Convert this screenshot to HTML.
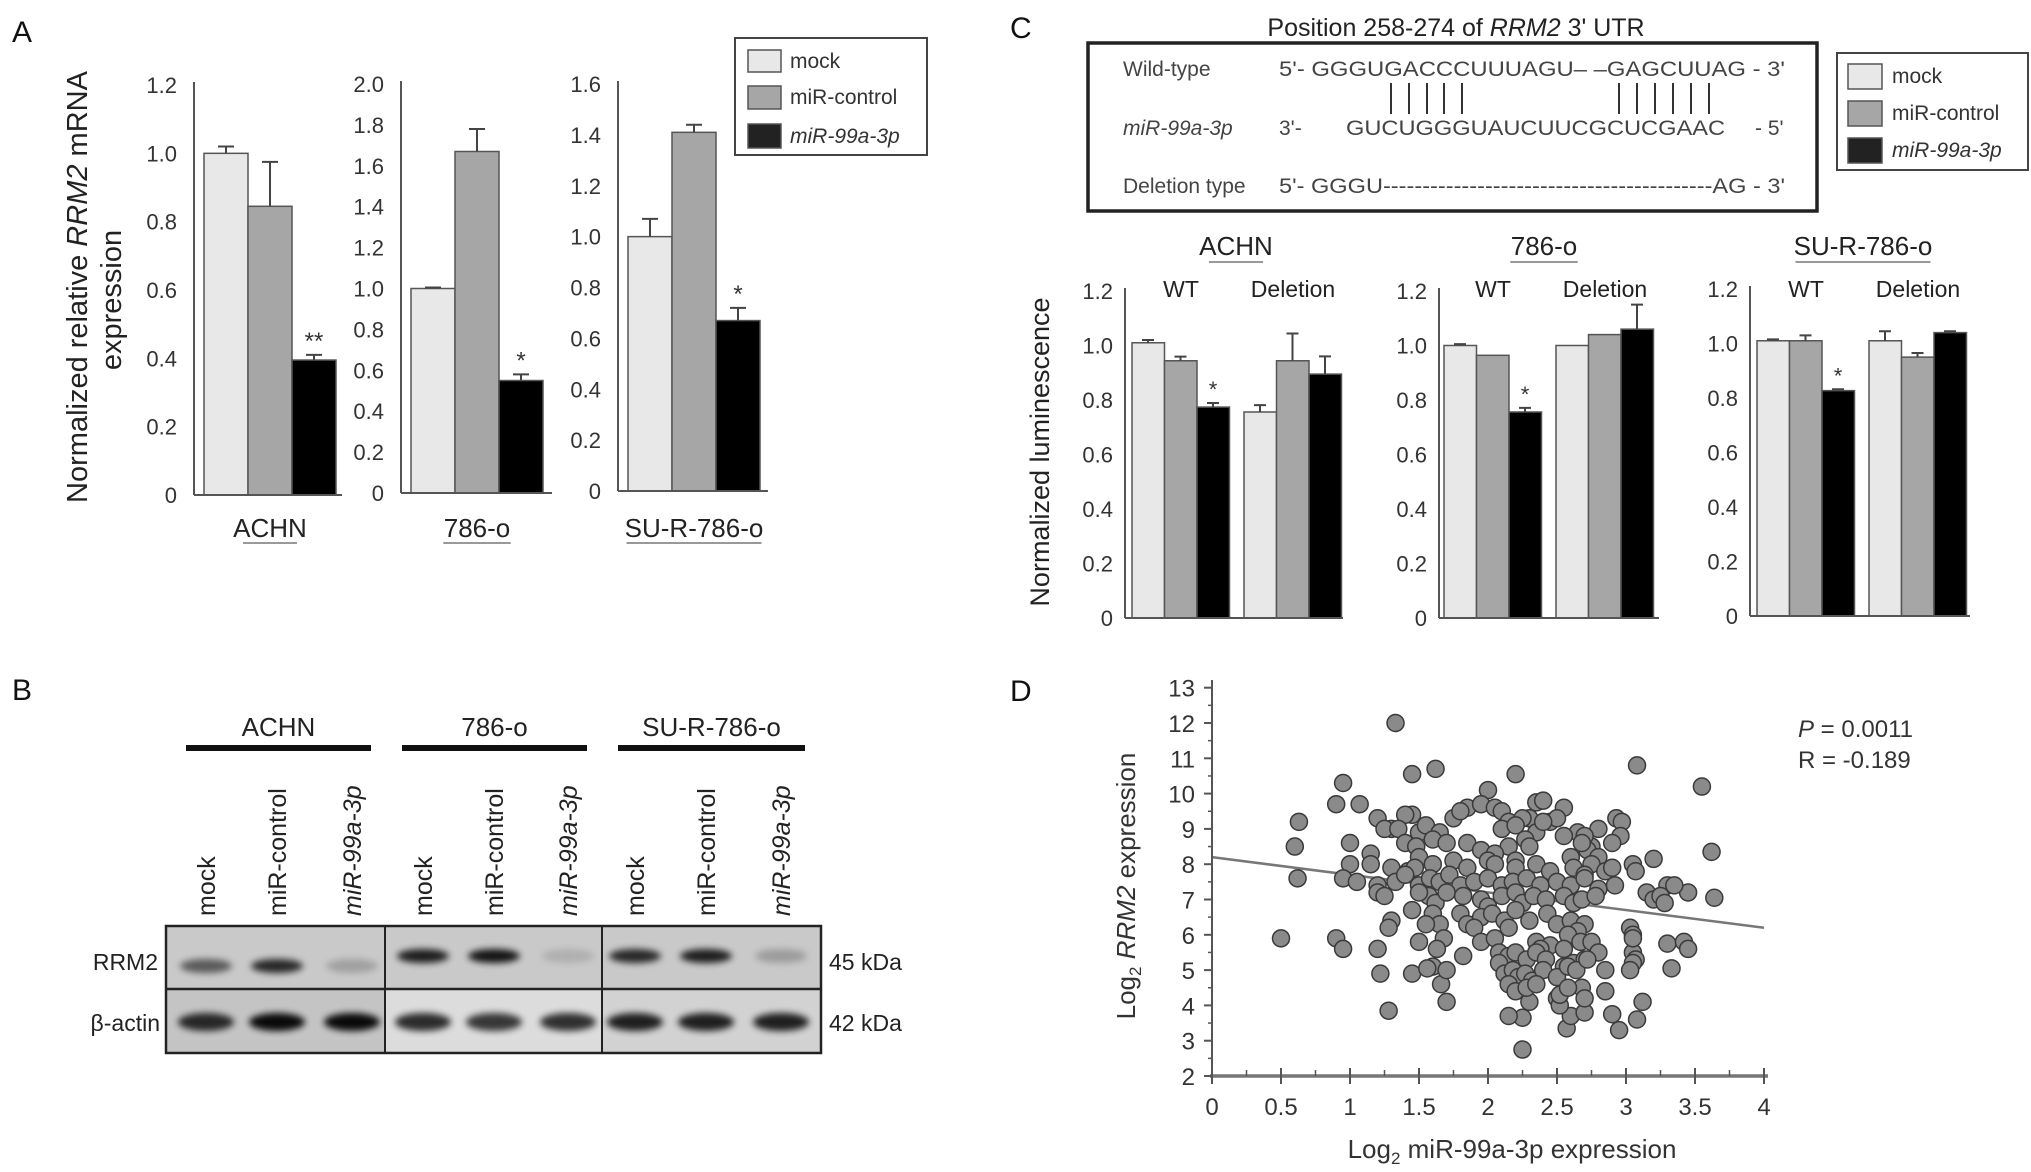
<!DOCTYPE html>
<html><head><meta charset="utf-8"><style>
html,body{margin:0;padding:0;background:#fff;}
svg{display:block;font-family:"Liberation Sans",Arial,sans-serif;}
</style></head><body>
<svg id="fig" width="2031" height="1172" viewBox="0 0 2031 1172" xmlns="http://www.w3.org/2000/svg">
<defs>
<filter id="blur" x="-30%" y="-100%" width="160%" height="300%"><feGaussianBlur stdDeviation="3.5"/></filter>
</defs>
<text x="12" y="42" font-size="30" fill="#111">A</text>
<text x="12" y="700" font-size="30" fill="#111">B</text>
<text x="1010" y="38" font-size="30" fill="#111">C</text>
<text x="1010" y="701" font-size="30" fill="#111">D</text>

<text transform="translate(87,287) rotate(-90)" text-anchor="middle" font-size="29" fill="#222">Normalized relative <tspan font-style="italic">RRM2</tspan> mRNA</text>
<text transform="translate(121,300) rotate(-90)" text-anchor="middle" font-size="29" fill="#222">expression</text>

<g>
<rect x="735" y="38" width="192" height="117" fill="#fff" stroke="#444" stroke-width="2"/>
<rect x="748" y="50" width="33" height="22" fill="#e8e8e8" stroke="#555" stroke-width="1.5"/>
<rect x="748" y="86" width="33" height="23" fill="#a6a6a6" stroke="#555" stroke-width="1.5"/>
<rect x="748" y="124" width="33" height="24" fill="#222" stroke="#555" stroke-width="1.5"/>
<text x="790" y="68" font-size="21" fill="#333">mock</text>
<text x="790" y="104" font-size="21" fill="#333">miR-control</text>
<text x="790" y="143" font-size="21" fill="#333" font-style="italic">miR-99a-3p</text>
</g>

<text x="1456" y="36" text-anchor="middle" font-size="25" fill="#222">Position 258-274 of <tspan font-style="italic">RRM2</tspan>  3' UTR</text>
<g fill="#444" font-size="21">
<rect x="1088" y="43" width="729" height="168" fill="#fff" stroke="#222" stroke-width="3.5"/>
<text x="1123" y="76">Wild-type</text>
<text x="1123" y="135" font-style="italic">miR-99a-3p</text>
<text x="1123" y="193">Deletion type</text>
<text x="1279" y="76" textLength="506" lengthAdjust="spacingAndGlyphs">5'- GGGUGACCCUUUAGU– –GAGCUUAG - 3'</text>
<text x="1279" y="135">3'-</text>
<text x="1346" y="135" textLength="379" lengthAdjust="spacingAndGlyphs">GUCUGGGUAUCUUCGCUCGAAC</text>
<text x="1755" y="135">- 5'</text>
<text x="1279" y="193" textLength="506" lengthAdjust="spacingAndGlyphs">5'- GGGU------------------------------------------AG - 3'</text>
<g stroke="#333" stroke-width="2">
<line x1="1391" y1="83" x2="1391" y2="114"/><line x1="1409" y1="83" x2="1409" y2="114"/><line x1="1427" y1="83" x2="1427" y2="114"/><line x1="1444" y1="83" x2="1444" y2="114"/><line x1="1462" y1="83" x2="1462" y2="114"/>
<line x1="1619" y1="83" x2="1619" y2="114"/><line x1="1637" y1="83" x2="1637" y2="114"/><line x1="1655" y1="83" x2="1655" y2="114"/><line x1="1673" y1="83" x2="1673" y2="114"/><line x1="1691" y1="83" x2="1691" y2="114"/><line x1="1709" y1="83" x2="1709" y2="114"/>
</g>
</g>
<g>
<rect x="1837" y="53" width="191" height="117" fill="#fff" stroke="#444" stroke-width="2"/>
<rect x="1848" y="64" width="34" height="25" fill="#e8e8e8" stroke="#555" stroke-width="1.5"/>
<rect x="1848" y="101" width="34" height="25" fill="#a6a6a6" stroke="#555" stroke-width="1.5"/>
<rect x="1848" y="138" width="34" height="25" fill="#222" stroke="#555" stroke-width="1.5"/>
<text x="1892" y="83" font-size="21" fill="#333">mock</text>
<text x="1892" y="120" font-size="21" fill="#333">miR-control</text>
<text x="1892" y="157" font-size="21" fill="#333" font-style="italic">miR-99a-3p</text>
</g>
<text transform="translate(1049,452) rotate(-90)" text-anchor="middle" font-size="27" fill="#222">Normalized luminescence</text>

<g id="panelB"></g>
<g id="panelD"></g>
</svg>
<script>
// ---------- Panel A data ----------
const aGroups = ["ACHN", "786-o", "SU-R-786-o"];
const aSeries = ["mock", "miR-control", "miR-99a-3p"];
const aMax = [1.2, 2.0, 1.6];
const aTickLabels = [["0","0.2","0.4","0.6","0.8","1.0","1.2"],["0","0.2","0.4","0.6","0.8","1.0","1.2","1.4","1.6","1.8","2.0"],["0","0.2","0.4","0.6","0.8","1.0","1.2","1.4","1.6"]];
const aValues = [[1.0, 0.845, 0.395],[1.0, 1.67, 0.55],[1.0, 1.41, 0.67]];
const aErrors = [[0.02, 0.13, 0.015],[0.005, 0.11, 0.03],[0.07, 0.03, 0.05]];
const aStars = [["","","**"],["","","*"],["","","*"]];
// ---------- Panel C data ----------
const cGroups = ["ACHN", "786-o", "SU-R-786-o"];
const cConstructs = ["WT", "Deletion"];
const cTickLabels = ["0","0.2","0.4","0.6","0.8","1.0","1.2"];
const cValues = [[[1.01,0.944,0.774],[0.756,0.944,0.895]],[[1.0,0.964,0.756],[1.0,1.04,1.06]],[[1.01,1.01,0.827],[1.01,0.95,1.04]]];
const cErrors = [[[0.01,0.015,0.015],[0.025,0.10,0.065]],[[0.005,0,0.015],[0,0,0.09]],[[0.005,0.02,0.005],[0.035,0.015,0.005]]];
const cStars = [[["","","*"],["","",""]],[["","","*"],["","",""]],[["","","*"],["","",""]]];
// ---------- Panel B data ----------
const bGroups = ["ACHN", "786-o", "SU-R-786-o"];
const bLanes = ["mock", "miR-control", "miR-99a-3p"];
const bRRM2 = [[0.55,0.8,0.2],[0.85,0.9,0.12],[0.8,0.85,0.22]];
const bActin = [[0.8,0.95,0.95],[0.8,0.75,0.78],[0.85,0.85,0.85]];
// ---------- Panel D data ----------
const dXTicks = ["0","0.5","1","1.5","2","2.5","3","3.5","4"];
const dYTicks = ["2","3","4","5","6","7","8","9","10","11","12","13"];
const dFit = [[0, 8.2],[4, 6.2]];
const dX = [1.33,1.45,1.62,2.2,3.08,3.55,0.95,0.9,1.07,2.0,0.63,0.6,0.62,0.5,0.9,0.95,1.2,1.22,1.28,1.45,1.7,1.66,3.62,3.64,3.45,3.3,3.35,3.3,3.33,3.42,3.45,3.12,3.08,2.95,2.9,2.57,2.6,2.25,2.25,2.15,2.3,2.7,2.85,2.85,2.68,2.5,2.52,3.2,3.05,3.07,2.93,2.97,2.96,2.9,2.8,2.75,
1.85,1.95,2.05,2.1,2.55,2.35,2.4,1.2,1.3,1.45,1.4,1.75,1.8,2.45,2.5,2.3,2.15,2.25,
1.25,1.35,1.5,1.55,1.65,2.1,2.2,2.35,2.4,2.65,2.7,2.55,2.27,1.6,
1.0,1.15,1.4,1.48,1.5,1.7,1.85,1.95,2.15,2.3,2.05,2.6,2.72,2.8,2.68,2.2,
1.0,1.15,1.3,1.42,1.47,1.6,1.75,1.85,2.0,2.05,2.2,2.35,2.45,2.62,2.75,2.85,2.9,2.7,
0.95,1.05,1.2,1.33,1.4,1.5,1.58,1.65,1.72,1.8,1.9,2.0,2.1,2.18,2.28,2.38,2.5,2.6,2.7,2.8,2.92,3.15,3.2,3.25,3.28,
1.2,1.25,1.57,1.62,1.7,1.82,1.95,2.0,2.1,2.2,2.25,2.33,2.42,2.55,2.62,2.68,2.78,1.5,
1.3,1.45,1.6,1.65,1.8,1.85,1.95,2.03,2.12,2.2,2.3,2.43,2.5,2.6,2.7,2.65,3.03,3.05,1.28,1.55,
1.5,1.68,1.9,1.95,2.05,2.15,2.35,2.45,2.58,2.67,2.75,3.05,3.07,3.05,2.55,2.38,
1.63,1.82,2.08,2.15,2.2,2.28,2.35,2.42,2.55,2.62,2.7,2.8,3.05,3.03,1.6,1.56,
1.7,2.08,2.12,2.18,2.22,2.27,2.32,2.4,2.5,2.58,2.64,2.72,2.15,2.2,2.28,2.35,2.52,2.7,2.58];
const dY = [12.0,10.55,10.7,10.55,10.8,10.2,10.3,9.7,9.7,10.1,9.2,8.5,7.6,5.9,5.9,5.6,5.6,4.9,3.85,4.9,4.1,4.6,8.35,7.05,7.2,7.4,7.4,5.75,5.05,5.8,5.6,4.1,3.6,3.3,3.75,3.35,3.7,2.75,3.65,3.7,4.1,3.8,4.4,5.0,4.5,4.2,4.0,8.15,8.0,7.8,9.3,9.2,8.8,8.6,9.0,8.5,
9.6,9.7,9.6,9.5,9.6,9.75,9.8,9.3,9.0,9.4,9.4,9.3,9.5,9.2,9.3,9.3,9.2,9.3,
9.0,9.0,8.9,9.1,8.9,9.0,9.1,8.9,9.2,8.9,8.8,8.8,8.7,8.7,
8.6,8.3,8.6,8.5,8.2,8.6,8.6,8.4,8.5,8.5,8.3,8.2,8.4,8.2,8.6,8.1,
8.0,8.0,7.9,7.8,7.9,8.0,8.1,7.9,8.1,8.0,7.9,8.0,7.8,7.9,8.0,7.8,7.9,7.7,
7.6,7.5,7.4,7.5,7.7,7.4,7.6,7.5,7.7,7.4,7.5,7.6,7.4,7.5,7.6,7.4,7.5,7.4,7.6,7.3,7.4,7.2,7.0,7.1,6.9,
7.2,7.1,7.1,6.9,7.2,7.1,7.0,6.8,7.1,7.2,6.9,7.1,7.0,7.1,6.9,7.0,7.1,7.2,
6.4,6.7,6.6,6.3,6.6,6.3,6.5,6.6,6.4,6.7,6.4,6.6,6.3,6.4,6.3,6.1,6.2,6.0,6.2,6.3,
5.8,5.9,6.2,5.8,5.9,6.2,5.8,5.7,6.0,5.8,5.8,5.5,5.3,5.9,5.6,5.6,
5.6,5.4,5.5,5.4,5.5,5.3,5.5,5.3,5.1,5.2,5.3,5.5,5.2,5.0,5.1,5.05,
5.0,5.2,4.9,5.0,4.8,4.9,4.7,5.0,4.8,5.1,5.0,5.3,4.6,4.4,4.5,4.6,4.3,4.2,4.5];

const NS = "http://www.w3.org/2000/svg";
const fig = document.getElementById("fig");
function mk(tag, attrs, parent) {
  const e = document.createElementNS(NS, tag);
  for (const k in attrs) e.setAttribute(k, attrs[k]);
  (parent || fig).appendChild(e);
  return e;
}
function txt(str, attrs, parent) { const t = mk("text", attrs, parent); t.textContent = str; return t; }
const fills = ["#e8e8e8", "#a6a6a6", "#000"];

// ---------- Panel A ----------
const aLayout = [{ax:194, bx:204, y0:495, yT:85, end:342},{ax:401, bx:411, y0:493, yT:84, end:552},{ax:618, bx:628, y0:491, yT:84, end:768}];
aGroups.forEach((g, gi) => {
  const L = aLayout[gi];
  const grp = mk("g", {});
  
  
  const yS = v => L.y0 - v / aMax[gi] * (L.y0 - L.yT);
  const ax = mk("line", {x1:L.ax, y1:L.yT - 3, x2:L.ax, y2:L.y0, stroke:"#555", "stroke-width":2}, grp);
  
  
  aTickLabels[gi].forEach((lab, i) => {
    const v = aMax[gi] * i / (aTickLabels[gi].length - 1);
    const t = txt(lab, {x:L.ax - 17, y:yS(v) + 8, "text-anchor":"end", "font-size":22, fill:"#333"}, grp);
    
    
  });
  aValues[gi].forEach((v, si) => {
    const x = L.bx + si * 44;
    const r = mk("rect", {x:x, y:yS(v), width:44, height:L.y0 - yS(v), fill:fills[si], stroke:"#555", "stroke-width":1.5}, grp);
    
    
    const e = aErrors[gi][si];
    if (e > 0) {
      const el = mk("path", {d:`M${x+22},${yS(v)} V${yS(v+e)} M${x+14},${yS(v+e)} H${x+30}`, stroke:"#444", "stroke-width":2, fill:"none"}, grp);
      
      
    }
    if (aStars[gi][si]) {
      const st = txt(aStars[gi][si], {x:x + 22, y:yS(v + e) - 6, "text-anchor":"middle", "font-size":24, fill:"#333"}, grp);
      
      
    }
  });
  const base = mk("line", {x1:L.ax, y1:L.y0, x2:L.end, y2:L.y0, stroke:"#555", "stroke-width":2}, grp);
  
  
  const cx = L.bx + 66;
  const gl = txt(g, {x:cx, y:537, "text-anchor":"middle", "font-size":26, fill:"#222"}, grp);
  
  
  const w = g.length * 13.5;
  mk("line", {x1:cx - w/2, y1:543, x2:cx + w/2, y2:543, stroke:"#999", "stroke-width":2}, grp);
});

// ---------- Panel C ----------
const cLayout = [{ax:1125, bx:1132, y0:618, end:1343},{ax:1439, bx:1444, y0:618, end:1659},{ax:1750, bx:1757, y0:616, end:1970}];
const cTitleX = [1236, 1544, 1863];
cGroups.forEach((g, gi) => {
  const L = cLayout[gi];
  const grp = mk("g", {});
  
  
  const yS = v => L.y0 - v / 1.2 * 327;
  const gl = txt(g, {x:cTitleX[gi], y:255, "text-anchor":"middle", "font-size":26, fill:"#222"}, grp);
  
  
  const w = g.length * 13.5;
  mk("line", {x1:cTitleX[gi] - w/2, y1:262, x2:cTitleX[gi] + w/2, y2:262, stroke:"#999", "stroke-width":2}, grp);
  mk("line", {x1:L.ax, y1:L.y0 - 330, x2:L.ax, y2:L.y0, stroke:"#555", "stroke-width":2}, grp);
  cTickLabels.forEach((lab, i) => {
    const v = 1.2 * i / (cTickLabels.length - 1);
    const t = txt(lab, {x:L.ax - 12, y:yS(v) + 8, "text-anchor":"end", "font-size":22, fill:"#333"}, grp);
    
    
  });
  cConstructs.forEach((c, ci) => {
    const x0 = L.bx + ci * 112;
    const lab = txt(c, {x:x0 + 49, y:297, "text-anchor":"middle", "font-size":23, fill:"#222"}, grp);
    
    
    cValues[gi][ci].forEach((v, si) => {
      const x = x0 + si * 32.5;
      const r = mk("rect", {x:x, y:yS(v), width:32.5, height:L.y0 - yS(v), fill:fills[si], stroke:"#555", "stroke-width":1.5}, grp);
      
      
      const e = cErrors[gi][ci][si];
      if (e > 0) {
        const el = mk("path", {d:`M${x+16},${yS(v)} V${yS(v+e)} M${x+10},${yS(v+e)} H${x+22}`, stroke:"#444", "stroke-width":2, fill:"none"}, grp);
        
        
      }
      if (cStars[gi][ci][si]) {
        const st = txt("*", {x:x + 16, y:yS(v + e) - 6, "text-anchor":"middle", "font-size":22, fill:"#333"}, grp);
        
        
      }
    });
  });
  mk("line", {x1:L.ax, y1:L.y0, x2:L.end, y2:L.y0, stroke:"#555", "stroke-width":2}, grp);
});

// ---------- Panel B ----------
const pB = document.getElementById("panelB");
const bGroupX = [[186,371],[402,587],[618,805]];
const bLaneX = [[206,277,352],[423,494,568],[635,706,781]];
mk("rect", {x:166, y:926, width:655, height:63, fill:"#c9c9c9"}, pB);
mk("rect", {x:166, y:989, width:219, height:64, fill:"#c4c4c4"}, pB);
mk("rect", {x:385, y:989, width:217, height:64, fill:"#dcdcdc"}, pB);
mk("rect", {x:602, y:989, width:219, height:64, fill:"#d2d2d2"}, pB);
bGroups.forEach((g, gi) => {
  const x0 = bGroupX[gi][0], x1 = bGroupX[gi][1];
  const gl = txt(g, {x:(x0 + x1) / 2, y:736, "text-anchor":"middle", "font-size":26, fill:"#222"}, pB);
  
  
  mk("rect", {x:x0, y:745, width:x1 - x0, height:6, fill:"#111"}, pB);
  bLanes.forEach((l, li) => {
    const lx = bLaneX[gi][li];
    const t = txt(l, {transform:`translate(${lx + 9},916) rotate(-90)`, "font-size":25, fill:"#222", "font-style": li === 2 ? "italic" : "normal"}, pB);
    
    
    const by = gi === 0 ? 966 : 956;
    const b1 = mk("ellipse", {cx:lx, cy:by, rx:26, ry:7, fill:"#000", opacity:bRRM2[gi][li], filter:"url(#blur)"}, pB);
    
    
    const b2 = mk("ellipse", {cx:lx, cy:1022, rx:28, ry:9, fill:"#000", opacity:bActin[gi][li], filter:"url(#blur)"}, pB);
    
    
  });
});
mk("rect", {x:166, y:926, width:655, height:127, fill:"none", stroke:"#222", "stroke-width":2.5}, pB);
mk("line", {x1:166, y1:989, x2:821, y2:989, stroke:"#222", "stroke-width":2.5}, pB);
mk("line", {x1:385, y1:926, x2:385, y2:1053, stroke:"#222", "stroke-width":2}, pB);
mk("line", {x1:602, y1:926, x2:602, y2:1053, stroke:"#222", "stroke-width":2}, pB);
txt("RRM2", {x:158, y:970, "text-anchor":"end", "font-size":23, fill:"#222"}, pB);
txt("β-actin", {x:160, y:1031, "text-anchor":"end", "font-size":23, fill:"#222"}, pB);
txt("45 kDa", {x:829, y:970, "font-size":23, fill:"#222"}, pB);
txt("42 kDa", {x:829, y:1031, "font-size":23, fill:"#222"}, pB);

// ---------- Panel D ----------
const pD = document.getElementById("panelD");
const dx = v => 1212 + v * 138;
const dy = v => 1076 - (v - 2) * 35.3;
const fit = mk("line", {x1:dx(dFit[0][0]), y1:dy(dFit[0][1]), x2:dx(dFit[1][0]), y2:dy(dFit[1][1]), stroke:"#777", "stroke-width":2.5}, pD);


dX.forEach((x, i) => {
  const c = mk("circle", {cx:dx(x), cy:dy(dY[i]), r:8.5, fill:"#8a8a8a", stroke:"#3a3a3a", "stroke-width":1.5}, pD);
  
  
});
mk("line", {x1:1212, y1:680, x2:1212, y2:1076, stroke:"#555", "stroke-width":2}, pD);
mk("line", {x1:1210, y1:1076, x2:1768, y2:1076, stroke:"#777", "stroke-width":3.5}, pD);
dYTicks.forEach((lab, i) => {
  const v = parseFloat(lab);
  mk("line", {x1:1204, y1:dy(v), x2:1212, y2:dy(v), stroke:"#555", "stroke-width":2}, pD);
  if (i < dYTicks.length - 1) mk("line", {x1:1208, y1:dy(v + 0.5), x2:1212, y2:dy(v + 0.5), stroke:"#555", "stroke-width":1.5}, pD);
  const t = txt(lab, {x:1195, y:dy(v) + 9, "text-anchor":"end", "font-size":24, fill:"#333"}, pD);
  
  
});
dXTicks.forEach((lab, i) => {
  const v = parseFloat(lab);
  mk("line", {x1:dx(v), y1:1068, x2:dx(v), y2:1084, stroke:"#555", "stroke-width":2}, pD);
  if (i < dXTicks.length - 1) mk("line", {x1:dx(v + 0.25), y1:1070, x2:dx(v + 0.25), y2:1076, stroke:"#555", "stroke-width":1.5}, pD);
  const t = txt(lab, {x:dx(v), y:1115, "text-anchor":"middle", "font-size":24, fill:"#333"}, pD);
  
  
});
</script>
<svg style="position:absolute;left:0;top:0" width="2031" height="1172" viewBox="0 0 2031 1172" font-family="Liberation Sans, Arial, sans-serif">
<text x="1512" y="1158" text-anchor="middle" font-size="26" fill="#333">Log<tspan font-size="17" dy="6">2</tspan><tspan dy="-6"> miR-99a-3p expression</tspan></text>
<text transform="translate(1135,886) rotate(-90)" text-anchor="middle" font-size="26" fill="#333">Log<tspan font-size="17" dy="6">2</tspan><tspan dy="-6"> </tspan><tspan font-style="italic">RRM2</tspan> expression</text>
<text x="1798" y="737" font-size="24" fill="#333"><tspan font-style="italic">P</tspan> = 0.0011</text>
<text x="1798" y="768" font-size="24" fill="#333">R = -0.189</text>
</svg>
</body></html>
